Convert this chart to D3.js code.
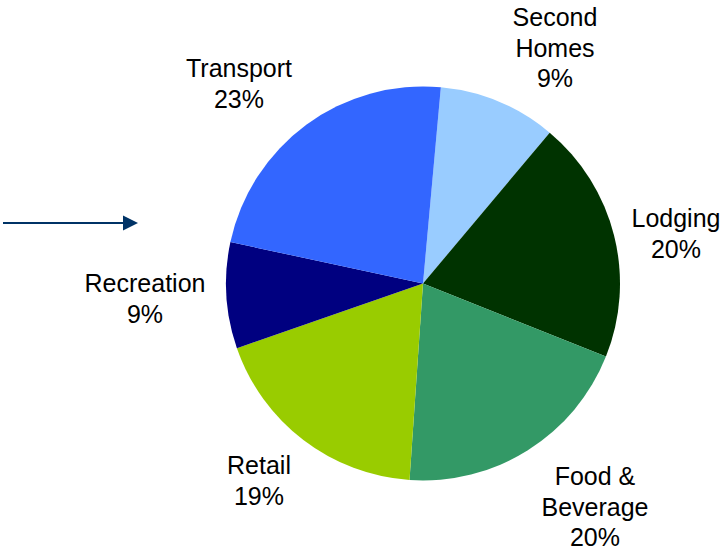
<!DOCTYPE html>
<html>
<head>
<meta charset="utf-8">
<script src="https://cdn.jsdelivr.net/npm/d3@7"></script>
<style>
  html, body { margin: 0; padding: 0; background: #fff; }
  svg { display: block; }
  text { font-family: "Liberation Sans", Arial, sans-serif; fill: #000; }
</style>
</head>
<body>
<svg id="chart" width="724" height="551"></svg>
<script>
// ---- data ----
const categories = ["Second Homes", "Lodging", "Food & Beverage", "Retail", "Recreation", "Transport"];
const labelLines = [["Second", "Homes"], ["Lodging"], ["Food &", "Beverage"], ["Retail"], ["Recreation"], ["Transport"]];
// slice shares as drawn
const values = [9.67, 19.92, 20.03, 18.58, 8.69, 23.06];
// percentages as printed on the labels
const pctLabels = ["9%", "20%", "20%", "19%", "9%", "23%"];
const colors = ["#99CCFF", "#003300", "#339966", "#99CC00", "#000080", "#3366FF"];

// ---- layout (not data) ----
const cx = 423, cy = 283.5, radius = 197;
const startDeg = 5.2;
// label anchor: centre x and first baseline y, offsets from pie centre
const labelPos = [[132, -257.5], [253, -56.5], [172, 201.5], [-164, 190.5], [-278, 8.5], [-184, -206.5]];
const lineH = 30.5;

const svg = d3.select("#chart");

const pie = d3.pie().sort(null).value(d => d)
  .startAngle(startDeg * Math.PI / 180)
  .endAngle(startDeg * Math.PI / 180 + 2 * Math.PI);
const arc = d3.arc().innerRadius(0).outerRadius(radius);

const g = svg.append("g").attr("transform", `translate(${cx},${cy})`);
g.selectAll("path").data(pie(values)).enter().append("path")
  .attr("d", arc)
  .attr("fill", (d, i) => colors[i]);

// labels
const lbl = svg.append("g").attr("font-size", 25).attr("text-anchor", "middle");
values.forEach((v, i) => {
  const lines = labelLines[i].concat([pctLabels[i]]);
  const t = lbl.append("text");
  lines.forEach((s, k) => {
    t.append("tspan")
      .attr("x", cx + labelPos[i][0])
      .attr("y", cy + labelPos[i][1] + k * lineH)
      .text(s);
  });
});

// arrow
const arrowColor = "#003366";
svg.append("line")
  .attr("x1", 3).attr("y1", 223).attr("x2", 125).attr("y2", 223)
  .attr("stroke", arrowColor).attr("stroke-width", 2.2);
svg.append("path")
  .attr("d", "M123,215.5 L138,223 L123,230.5 Z")
  .attr("fill", arrowColor);
</script>
</body>
</html>
